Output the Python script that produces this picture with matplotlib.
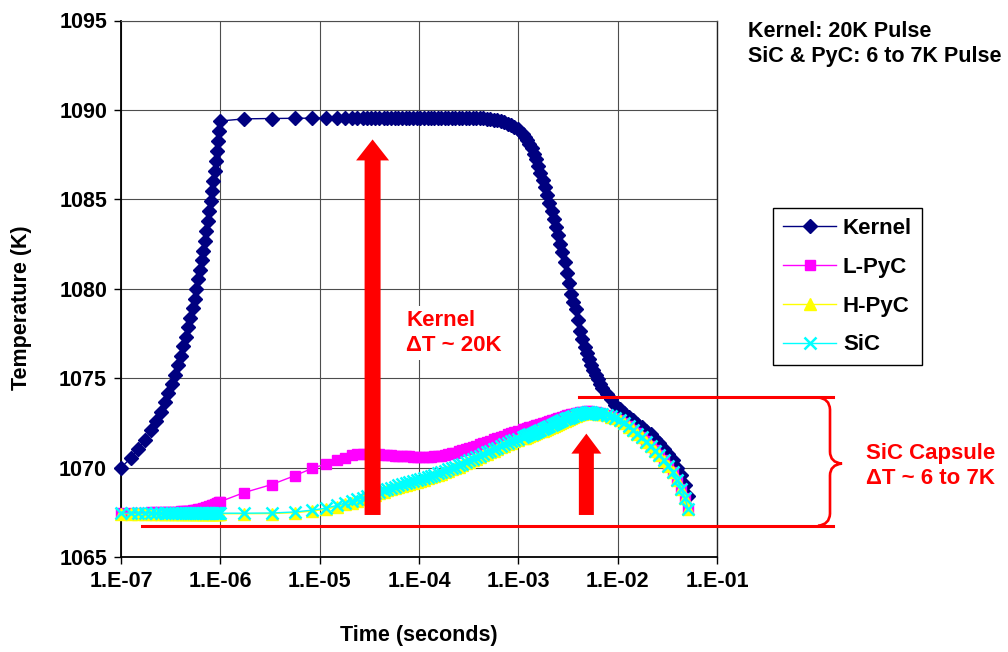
import matplotlib
matplotlib.use("Agg")
import matplotlib.pyplot as plt
from matplotlib.patches import Polygon, PathPatch
from matplotlib.lines import Line2D
from matplotlib.path import Path
from matplotlib.transforms import IdentityTransform
from matplotlib.ticker import NullLocator

plt.rcParams['font.family'] = ['Liberation Sans', 'DejaVu Sans']
plt.rcParams['font.weight'] = 'bold'

# ---------------- data ----------------
time_s = [
    1.00e-7, 1.25e-7, 1.50e-7, 1.75e-7, 2.00e-7, 2.25e-7, 2.50e-7, 2.75e-7, 3.00e-7, 3.25e-7,
    3.50e-7, 3.75e-7, 4.00e-7, 4.25e-7, 4.50e-7, 4.75e-7, 5.00e-7, 5.25e-7, 5.50e-7, 5.75e-7,
    6.00e-7, 6.25e-7, 6.50e-7, 6.75e-7, 7.00e-7, 7.25e-7, 7.50e-7, 7.75e-7, 8.00e-7, 8.25e-7,
    8.50e-7, 8.75e-7, 9.00e-7, 9.25e-7, 9.50e-7, 9.75e-7, 1.00e-6,
    1.73e-6, 3.28e-6, 5.63e-6, 8.35e-6, 1.15e-5, 1.48e-5, 1.79e-5,
    2.10e-5, 2.40e-5, 2.70e-5, 3.00e-5, 3.30e-5, 3.60e-5, 4.00e-5, 4.40e-5, 4.80e-5, 5.20e-5,
    5.70e-5, 6.20e-5, 6.80e-5, 7.40e-5, 8.00e-5, 8.70e-5, 9.50e-5,
    1.03e-4, 1.12e-4, 1.22e-4, 1.32e-4, 1.43e-4, 1.55e-4, 1.68e-4, 1.82e-4, 1.97e-4,
    2.14e-4, 2.32e-4, 2.52e-4, 2.73e-4, 2.96e-4, 3.21e-4, 3.48e-4, 3.77e-4, 4.09e-4,
    4.43e-4, 4.80e-4, 5.20e-4, 5.64e-4, 6.11e-4, 6.62e-4, 7.18e-4, 7.78e-4, 8.43e-4, 9.14e-4,
    1.00e-3, 1.11e-3, 1.17e-3, 1.23e-3, 1.29e-3, 1.36e-3, 1.43e-3, 1.51e-3, 1.59e-3, 1.67e-3,
    1.76e-3, 1.85e-3, 1.95e-3, 2.05e-3, 2.16e-3, 2.27e-3, 2.39e-3, 2.51e-3, 2.64e-3, 2.78e-3,
    2.93e-3, 3.08e-3, 3.24e-3, 3.41e-3, 3.59e-3, 3.78e-3, 3.98e-3, 4.19e-3, 4.41e-3, 4.64e-3,
    4.89e-3, 5.14e-3, 5.41e-3, 5.69e-3, 5.99e-3, 6.30e-3, 6.63e-3, 6.98e-3,
    7.73e-3, 8.56e-3, 9.48e-3, 1.05e-2, 1.16e-2, 1.29e-2, 1.43e-2, 1.58e-2, 1.75e-2, 1.94e-2,
    2.15e-2, 2.38e-2, 2.63e-2, 2.92e-2, 3.23e-2, 3.58e-2, 3.96e-2, 4.39e-2, 4.75e-2, 5.10e-2,
]

kernel_K = [
    1070.00, 1070.52, 1071.04, 1071.56, 1072.08, 1072.60, 1073.12, 1073.64, 1074.16, 1074.68,
    1075.20, 1075.72, 1076.24, 1076.78, 1077.31, 1077.85, 1078.38, 1078.92, 1079.45, 1079.99,
    1080.52, 1081.06, 1081.59, 1082.13, 1082.66, 1083.22, 1083.78, 1084.34, 1084.90, 1085.46,
    1086.02, 1086.58, 1087.14, 1087.70, 1088.26, 1088.82, 1089.38,
    1089.50, 1089.52, 1089.53, 1089.54, 1089.55, 1089.55, 1089.55,
    1089.55, 1089.55, 1089.55, 1089.55, 1089.55, 1089.55, 1089.55, 1089.55, 1089.55, 1089.55,
    1089.55, 1089.55, 1089.55, 1089.55, 1089.55, 1089.55, 1089.55,
    1089.55, 1089.55, 1089.55, 1089.55, 1089.55, 1089.55, 1089.55, 1089.55, 1089.55,
    1089.55, 1089.55, 1089.55, 1089.55, 1089.55, 1089.55, 1089.55, 1089.55, 1089.55,
    1089.53, 1089.51, 1089.48, 1089.45, 1089.41, 1089.36, 1089.30, 1089.23, 1089.15, 1089.06,
    1088.95, 1088.65, 1088.48, 1088.30, 1088.08, 1087.85, 1087.56, 1087.25, 1086.88, 1086.50,
    1086.10, 1085.70, 1085.25, 1084.80, 1084.35, 1083.90, 1083.45, 1083.00, 1082.52, 1082.05,
    1081.48, 1080.90, 1080.30, 1079.70, 1079.28, 1078.85, 1078.25, 1077.65, 1077.20, 1076.75,
    1076.40, 1076.05, 1075.75, 1075.45, 1075.20, 1074.95, 1074.70, 1074.45,
    1074.10, 1073.85, 1073.50, 1073.25, 1073.05, 1072.85, 1072.65, 1072.45, 1072.25, 1072.05,
    1071.85, 1071.60, 1071.35, 1071.05, 1070.75, 1070.40, 1070.00, 1069.60, 1069.05, 1068.40,
]

lpyc_K = [
    1067.48, 1067.48, 1067.48, 1067.48, 1067.49, 1067.49, 1067.50, 1067.50, 1067.51, 1067.52,
    1067.53, 1067.54, 1067.55, 1067.56, 1067.57, 1067.59, 1067.60, 1067.62, 1067.63, 1067.65,
    1067.67, 1067.69, 1067.71, 1067.73, 1067.76, 1067.78, 1067.81, 1067.83, 1067.86, 1067.89,
    1067.92, 1067.95, 1067.98, 1068.01, 1068.04, 1068.07, 1068.10,
    1068.60, 1069.05, 1069.55, 1069.95, 1070.20, 1070.40, 1070.55,
    1070.68, 1070.74, 1070.77, 1070.78, 1070.78, 1070.77, 1070.75, 1070.73, 1070.71, 1070.69,
    1070.67, 1070.65, 1070.64, 1070.63, 1070.62, 1070.61, 1070.60,
    1070.60, 1070.60, 1070.60, 1070.61, 1070.62, 1070.64, 1070.67, 1070.70, 1070.74,
    1070.79, 1070.84, 1070.90, 1070.96, 1071.02, 1071.09, 1071.16, 1071.23, 1071.30,
    1071.37, 1071.44, 1071.51, 1071.58, 1071.65, 1071.72, 1071.79, 1071.86, 1071.93, 1072.00,
    1072.07, 1072.14, 1072.17, 1072.21, 1072.25, 1072.28, 1072.32, 1072.36, 1072.40, 1072.44,
    1072.48, 1072.52, 1072.56, 1072.60, 1072.64, 1072.68, 1072.72, 1072.76, 1072.80, 1072.84,
    1072.88, 1072.92, 1072.96, 1072.99, 1073.02, 1073.05, 1073.08, 1073.10, 1073.12, 1073.13,
    1073.14, 1073.14, 1073.13, 1073.12, 1073.09, 1073.06, 1073.03, 1073.00,
    1072.94, 1072.87, 1072.79, 1072.66, 1072.51, 1072.31, 1072.11, 1071.91, 1071.71, 1071.46,
    1071.21, 1070.96, 1070.71, 1070.41, 1070.11, 1069.76, 1069.31, 1068.81, 1068.31, 1067.71,
]

hpyc_K = [
    1067.42, 1067.42, 1067.42, 1067.42, 1067.42, 1067.42, 1067.42, 1067.42, 1067.42, 1067.42,
    1067.42, 1067.42, 1067.42, 1067.42, 1067.42, 1067.42, 1067.42, 1067.42, 1067.42, 1067.42,
    1067.42, 1067.42, 1067.42, 1067.42, 1067.42, 1067.42, 1067.42, 1067.42, 1067.42, 1067.42,
    1067.42, 1067.42, 1067.42, 1067.42, 1067.42, 1067.42, 1067.42,
    1067.42, 1067.43, 1067.48, 1067.57, 1067.67, 1067.81, 1067.94,
    1068.04, 1068.14, 1068.24, 1068.33, 1068.41, 1068.49, 1068.58, 1068.66, 1068.73, 1068.79,
    1068.86, 1068.92, 1068.98, 1069.04, 1069.09, 1069.15, 1069.21,
    1069.27, 1069.33, 1069.39, 1069.45, 1069.52, 1069.59, 1069.66, 1069.74, 1069.82,
    1069.90, 1069.98, 1070.06, 1070.14, 1070.23, 1070.32, 1070.41, 1070.50, 1070.59,
    1070.68, 1070.77, 1070.86, 1070.95, 1071.04, 1071.13, 1071.22, 1071.30, 1071.38, 1071.46,
    1071.54, 1071.63, 1071.68, 1071.72, 1071.77, 1071.82, 1071.87, 1071.92, 1071.97, 1072.02,
    1072.07, 1072.12, 1072.17, 1072.23, 1072.29, 1072.34, 1072.40, 1072.45, 1072.51, 1072.56,
    1072.62, 1072.67, 1072.73, 1072.78, 1072.83, 1072.88, 1072.93, 1072.97, 1073.01, 1073.04,
    1073.06, 1073.07, 1073.07, 1073.06, 1073.04, 1073.01, 1072.99, 1072.97,
    1072.92, 1072.85, 1072.77, 1072.64, 1072.49, 1072.29, 1072.09, 1071.89, 1071.69, 1071.44,
    1071.19, 1070.94, 1070.69, 1070.39, 1070.09, 1069.74, 1069.29, 1068.79, 1068.29, 1067.69,
]

sic_K = [
    1067.45, 1067.45, 1067.45, 1067.45, 1067.45, 1067.45, 1067.45, 1067.45, 1067.45, 1067.45,
    1067.45, 1067.45, 1067.45, 1067.45, 1067.45, 1067.45, 1067.45, 1067.45, 1067.45, 1067.45,
    1067.45, 1067.45, 1067.45, 1067.45, 1067.45, 1067.45, 1067.45, 1067.45, 1067.45, 1067.45,
    1067.45, 1067.45, 1067.45, 1067.45, 1067.45, 1067.45, 1067.45,
    1067.45, 1067.46, 1067.52, 1067.62, 1067.73, 1067.88, 1068.01,
    1068.12, 1068.22, 1068.32, 1068.41, 1068.49, 1068.57, 1068.66, 1068.74, 1068.81, 1068.87,
    1068.94, 1069.00, 1069.06, 1069.12, 1069.17, 1069.23, 1069.29,
    1069.35, 1069.41, 1069.47, 1069.53, 1069.60, 1069.67, 1069.74, 1069.82, 1069.90,
    1069.98, 1070.06, 1070.14, 1070.22, 1070.31, 1070.40, 1070.49, 1070.58, 1070.67,
    1070.76, 1070.85, 1070.94, 1071.03, 1071.12, 1071.21, 1071.30, 1071.38, 1071.46, 1071.54,
    1071.62, 1071.71, 1071.76, 1071.80, 1071.85, 1071.90, 1071.95, 1072.00, 1072.05, 1072.10,
    1072.15, 1072.20, 1072.25, 1072.31, 1072.37, 1072.42, 1072.48, 1072.53, 1072.59, 1072.64,
    1072.70, 1072.75, 1072.80, 1072.85, 1072.90, 1072.94, 1072.98, 1073.02, 1073.05, 1073.08,
    1073.09, 1073.10, 1073.09, 1073.08, 1073.05, 1073.02, 1073.00, 1072.98,
    1072.93, 1072.86, 1072.78, 1072.65, 1072.50, 1072.30, 1072.10, 1071.90, 1071.70, 1071.45,
    1071.20, 1070.95, 1070.70, 1070.40, 1070.10, 1069.75, 1069.30, 1068.80, 1068.30, 1067.70,
]

series_names = ["Kernel", "L-PyC", "H-PyC", "SiC"]
xtick_values = [1e-7, 1e-6, 1e-5, 1e-4, 1e-3, 1e-2, 1e-1]
xtick_labels = ["1.E-07", "1.E-06", "1.E-05", "1.E-04", "1.E-03", "1.E-02", "1.E-01"]
ytick_values = [1065, 1070, 1075, 1080, 1085, 1090, 1095]

# annotation anchors (data coords): arrows and the delta-T reference lines
big_arrow = (3.41e-5, 1067.35, 1088.35)     # x, tail, tip
small_arrow = (4.84e-3, 1067.35, 1071.9)
low_line_T = 1066.75
high_line_T = 1073.92

# ---------------- figure ----------------
W, H = 1008, 652
fig = plt.figure(figsize=(W / 100, H / 100), dpi=100)
ax = fig.add_axes([121 / W, 1 - 557 / H, (717 - 121) / W, (557 - 20.5) / H])

ax.set_xscale('log')
ax.set_xlim(1e-7, 1e-1)
ax.set_ylim(1065, 1095)
ax.set_xticks(xtick_values)
ax.set_xticklabels(xtick_labels)
ax.xaxis.set_minor_locator(NullLocator())
ax.set_yticks(ytick_values)
ax.grid(True, color='#4d4d4d', lw=0.8)
ax.set_axisbelow(True)
ax.tick_params(direction='out', length=5, width=1, labelsize=15.5, pad=5, color='black')
for lab in ax.get_xticklabels() + ax.get_yticklabels():
    lab.set_fontweight('bold')
ax.spines['left'].set_color('black'); ax.spines['left'].set_linewidth(1.3)
ax.spines['bottom'].set_color('black'); ax.spines['bottom'].set_linewidth(1.3)
ax.spines['right'].set_color('#222222'); ax.spines['right'].set_linewidth(1.0)
ax.spines['top'].set_color('#4d4d4d'); ax.spines['top'].set_linewidth(0.8)

ax.set_xlabel("Time (seconds)", fontsize=15.5, fontweight='bold')
ax.set_ylabel("Temperature (K)", fontsize=15.5, fontweight='bold')
ax.xaxis.label.set_va('center')
ax.yaxis.label.set_va('center')
ax.xaxis.set_label_coords(0.5, -(635 - 557) / (557 - 20.5))
ax.yaxis.set_label_coords((22 - 121) / (717 - 121), (557 - 308) / (557 - 20.5))

ax.plot(time_s, kernel_K, color='#000080', lw=1.0, marker='D', ms=7.5,
        mfc='#000080', mec='#000080', label=series_names[0], clip_on=False, zorder=3)
ax.plot(time_s, lpyc_K, color='#FF00FF', lw=1.0, marker='s', ms=7.5,
        mfc='#FF00FF', mec='#FF00FF', label=series_names[1], clip_on=False, zorder=3)
ax.plot(time_s, hpyc_K, color='#FFFF00', lw=1.0, marker='^', ms=8.5,
        mfc='#FFFF00', mec='#FFFF00', label=series_names[2], clip_on=False, zorder=3)
ax.plot(time_s, sic_K, color='#00FFFF', lw=1.0, marker='x', ms=8.5, mew=1.8,
        mec='#00FFFF', label=series_names[3], clip_on=False, zorder=3)

leg = ax.legend(loc='upper left', bbox_to_anchor=(773 / W, 1 - 208 / H),
                bbox_transform=fig.transFigure, borderaxespad=0, fancybox=False,
                edgecolor='black', framealpha=1, prop={'size': 16, 'weight': 'bold'},
                handlelength=2.4, handletextpad=0.3, labelspacing=0.8, borderpad=0.45)
leg.get_frame().set_linewidth(1.0)

# ---------------- annotations (pixel helpers) ----------------
def to_disp(t, T):
    return ax.transData.transform((t, T))

def fig_px(x, y):
    return (x, H - y)

red = '#FF0000'

def block_arrow(spec, shaft_w, head_w, head_len):
    t, T0, T1 = spec
    X, Y0 = to_disp(t, T0)
    _, Y1 = to_disp(t, T1)
    pts = [(X - shaft_w / 2, Y0), (X + shaft_w / 2, Y0), (X + shaft_w / 2, Y1 - head_len),
           (X + head_w / 2, Y1 - head_len), (X, Y1), (X - head_w / 2, Y1 - head_len),
           (X - shaft_w / 2, Y1 - head_len)]
    fig.add_artist(Polygon(pts, closed=True, transform=IdentityTransform(),
                           fc=red, ec='none', zorder=10))

block_arrow(big_arrow, 16, 33, 21)
block_arrow(small_arrow, 15, 30, 20)

# horizontal reference lines
_, ylow = to_disp(1e-7, low_line_T)
_, yhigh = to_disp(1e-7, high_line_T)
fig.add_artist(Line2D([142, 833], [ylow, ylow], transform=IdentityTransform(),
                      color=red, lw=2.2, zorder=10))
fig.add_artist(Line2D([579, 833], [yhigh, yhigh], transform=IdentityTransform(),
                      color=red, lw=2.2, zorder=10))

# curly brace
bx, tip = 830, 842
ytop, ybot = H - yhigh, H - ylow
ymid = (ytop + ybot) / 2 + 2
verts = [fig_px(818, ytop), fig_px(829.5, ytop + 1), fig_px(bx, ytop + 12),
         fig_px(bx, ymid - 12),
         fig_px(bx, ymid - 1), fig_px(tip, ymid),
         fig_px(bx, ymid + 1), fig_px(bx, ymid + 12),
         fig_px(bx, ybot - 12),
         fig_px(829.5, ybot - 1), fig_px(818, ybot)]
codes = [Path.MOVETO, Path.CURVE3, Path.CURVE3, Path.LINETO,
         Path.CURVE3, Path.CURVE3, Path.CURVE3, Path.CURVE3,
         Path.LINETO, Path.CURVE3, Path.CURVE3]
fig.add_artist(PathPatch(Path(verts, codes), transform=IdentityTransform(),
                         fc='none', ec=red, lw=1.9, zorder=10))

# texts
fig.text(406 / W, 1 - 333 / H, "Kernel\n\u0394T ~ 20K", color=red, fontsize=16,
         fontweight='bold', ha='left', va='center', linespacing=1.2,
         bbox=dict(fc='white', ec='none', pad=3), zorder=9)
fig.text(866 / W, 1 - 466 / H, "SiC Capsule\n\u0394T ~ 6 to 7K", color=red, fontsize=16,
         fontweight='bold', ha='left', va='center', linespacing=1.2)
fig.text(748 / W, 1 - 44 / H, "Kernel: 20K Pulse\nSiC & PyC: 6 to 7K Pulse", color='black',
         fontsize=15.5, fontweight='bold', ha='left', va='center', linespacing=1.2)

fig.savefig("out.png", dpi=100)
